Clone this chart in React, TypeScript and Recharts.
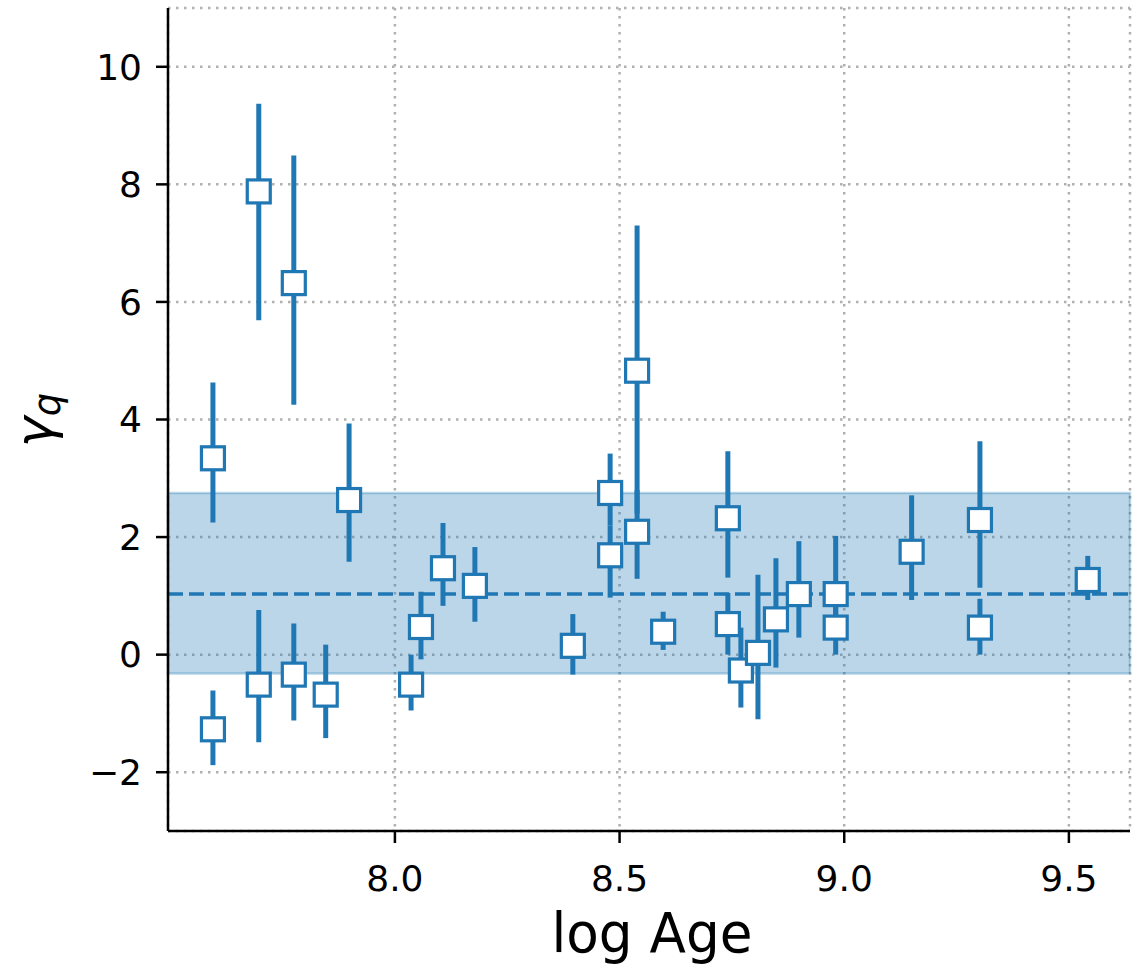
import {
  ScatterChart, Scatter, XAxis, YAxis, CartesianGrid, ErrorBar,
  ReferenceArea, ReferenceLine,
} from 'recharts'

// log Age of each cluster
const logAge = [
  7.595, 7.595, 7.697, 7.697, 7.775, 7.775, 7.846, 7.898,
  8.036, 8.058, 8.107, 8.178, 8.396, 8.479, 8.479, 8.539,
  8.539, 8.597, 8.741, 8.741, 8.770, 8.808, 8.848, 8.899,
  8.981, 8.981, 9.150, 9.302, 9.302, 9.542,
]

// gamma_q best value
const gammaQ = [
  3.34, -1.27, 7.88, -0.51, 6.32, -0.34, -0.68, 2.63,
  -0.51, 0.47, 1.47, 1.17, 0.15, 2.75, 1.69, 4.83,
  2.09, 0.39, 2.32, 0.52, -0.27, 0.03, 0.60, 1.03,
  1.03, 0.46, 1.75, 2.29, 0.46, 1.27,
]

// lower / upper end of each error bar
const gammaLow = [
  2.25, -1.88, 5.69, -1.49, 4.25, -1.12, -1.42, 1.58,
  -0.95, -0.08, 0.83, 0.56, -0.34, 2.20, 0.97, 2.40,
  1.29, 0.08, 1.31, 0.00, -0.90, -1.10, -0.22, 0.29,
  0.50, 0.00, 0.93, 1.14, 0.00, 0.93,
]
const gammaHigh = [
  4.63, -0.61, 9.37, 0.76, 8.49, 0.53, 0.17, 3.93,
  0.00, 1.07, 2.24, 1.83, 0.69, 3.42, 2.20, 7.30,
  2.80, 0.73, 3.46, 1.05, 0.46, 1.36, 1.64, 1.93,
  2.02, 1.00, 2.71, 3.63, 0.95, 1.68,
]

const meanGamma = 1.03
const bandLow = -0.32
const bandHigh = 2.75

const xTicks = [8.0, 8.5, 9.0, 9.5]
const yTicks = [-2, 0, 2, 4, 6, 8, 10]

const BLUE = '#1f77b4'
const FONT = "'DejaVu Sans', sans-serif"

const points = logAge.map((x, i) => ({
  x,
  y: gammaQ[i],
  err: [gammaQ[i] - gammaLow[i], gammaHigh[i] - gammaQ[i]],
}))

const SquareMarker = (props: any) => {
  const { cx, cy } = props
  if (cx == null || cy == null) return null
  return (
    <rect x={cx - 11.5} y={cy - 11.5} width={23} height={23}
      fill="#fff" stroke={BLUE} strokeWidth={3.2} />
  )
}

const fmtY = (v: number) => (v < 0 ? `\u2212${Math.abs(v)}` : String(v))

export default function App() {
  return (
    <div style={{ position: 'absolute', left: 0, top: 0, background: '#fff' }}>
      <ScatterChart width={1132} height={965}
        margin={{ top: 8, right: 2, left: 0, bottom: 0 }}>
        <CartesianGrid xAxisId="b" yAxisId="l"
          stroke="#b0b0b0" strokeWidth={2.5} strokeDasharray="2.5 5.5" />
        <XAxis xAxisId="b" type="number" dataKey="x" domain={[7.495, 9.636]}
          ticks={xTicks} allowDataOverflow height={134}
          tickFormatter={(v: number) => v.toFixed(1)}
          tick={{ fontSize: 36, fill: '#000', fontFamily: FONT }}
          tickSize={12} tickMargin={22}
          axisLine={{ stroke: '#000', strokeWidth: 2.5 }}
          tickLine={{ stroke: '#000', strokeWidth: 2.5 }}
          label={{
            content: () => (
              <text x={652} y={952} textAnchor="middle" fontSize={55}
                fontFamily={FONT} fill="#000" textLength={201}
                lengthAdjust="spacingAndGlyphs">log Age</text>
            ),
          }}
        />
        <XAxis xAxisId="t" orientation="top" type="number" domain={[7.495, 9.636]}
          height={0} tick={false} tickLine={false}
          axisLine={{ stroke: '#000', strokeWidth: 2.5 }} />
        <YAxis yAxisId="l" type="number" dataKey="y" domain={[-3, 11]}
          ticks={yTicks} allowDataOverflow width={168}
          tickFormatter={fmtY}
          tick={{ fontSize: 36, fill: '#000', fontFamily: FONT }}
          tickSize={12} tickMargin={14}
          axisLine={{ stroke: '#000', strokeWidth: 2.5 }}
          tickLine={{ stroke: '#000', strokeWidth: 2.5 }}
          label={{
            content: () => (
              <text transform="translate(52,420) rotate(-90)" textAnchor="middle"
                fontSize={52} fontFamily={FONT} fontStyle="italic" fill="#000">
                γ<tspan fontSize={37} dy={8}>q</tspan>
              </text>
            ),
          }}
        />
        <YAxis yAxisId="r" orientation="right" type="number" domain={[-3, 11]}
          width={0} tick={false} tickLine={false}
          axisLine={{ stroke: '#000', strokeWidth: 2.5 }} />
        <ReferenceArea xAxisId="b" yAxisId="l" y1={bandLow} y2={bandHigh}
          fill={BLUE} fillOpacity={0.3} stroke={BLUE} strokeOpacity={0.3}
          strokeWidth={2.5} />
        <ReferenceLine xAxisId="b" yAxisId="l" y={meanGamma}
          stroke={BLUE} strokeWidth={3.5} strokeDasharray="15 6" />
        <Scatter xAxisId="b" yAxisId="l" data={points} shape={SquareMarker}
          isAnimationActive={false}>
          <ErrorBar dataKey="err" direction="y" width={0} strokeWidth={5}
            stroke={BLUE} isAnimationActive={false} />
        </Scatter>
      </ScatterChart>
    </div>
  )
}
